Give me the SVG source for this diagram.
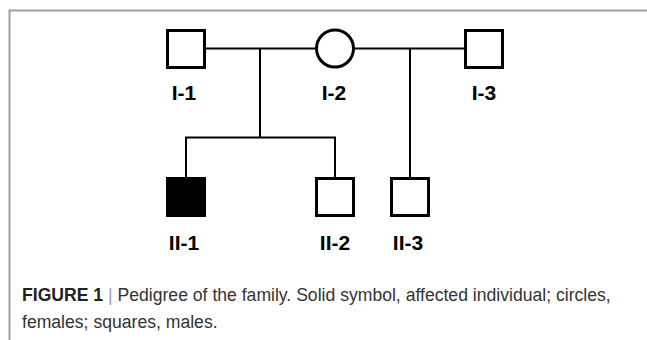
<svg xmlns="http://www.w3.org/2000/svg" width="647" height="340" viewBox="0 0 647 340">
<style>
.sym{fill:#fff;stroke:#000;stroke-width:3}
.aff{fill:#000;stroke:#000;stroke-width:3}
.line{stroke:#000;stroke-width:2;fill:none}
.lbl{font-family:"Liberation Sans",Arial,sans-serif;font-weight:bold;font-size:21px;fill:#000;text-anchor:middle}
.cap{font-family:"Liberation Sans",Arial,sans-serif;font-size:17.6px;fill:#333}
</style>
<rect width="647" height="340" fill="#fff"/>
<path d="M9.5 340 V10.5 H647" fill="none" stroke="#a0a0a0" stroke-width="2"/>
<g id="connectors">
<line class="line" x1="205" y1="48.5" x2="316" y2="48.5"/>
<line class="line" x1="354" y1="48.5" x2="465" y2="48.5"/>
<polyline class="line" points="260,48.5 260,137.5"/>
<polyline class="line" points="186,178 186,137.5 335,137.5 335,178"/>
<polyline class="line" points="410,48.5 410,178"/>
</g>
<g id="I-1"><rect class="sym" x="167.5" y="30.5" width="37" height="37"/><text class="lbl" x="184" y="100">I-1</text></g>
<g id="I-2"><circle class="sym" cx="335" cy="48.5" r="18.5"/><text class="lbl" x="334" y="100">I-2</text></g>
<g id="I-3"><rect class="sym" x="465.5" y="30.5" width="37" height="37"/><text class="lbl" x="484" y="100">I-3</text></g>
<g id="II-1"><rect class="aff" x="167.5" y="178.5" width="37" height="37"/><text class="lbl" x="184" y="250">II-1</text></g>
<g id="II-2"><rect class="sym" x="316.5" y="178.5" width="37" height="37"/><text class="lbl" x="335" y="250">II-2</text></g>
<g id="II-3"><rect class="sym" x="391.5" y="178.5" width="37" height="37"/><text class="lbl" x="408" y="250">II-3</text></g>
<text class="cap" x="22" y="301"><tspan font-weight="bold" fill="#222">FIGURE 1</tspan><tspan fill="#999"> | </tspan>Pedigree of the family. Solid symbol, affected individual; circles,</text>
<text class="cap" x="22" y="328">females; squares, males.</text>
</svg>
